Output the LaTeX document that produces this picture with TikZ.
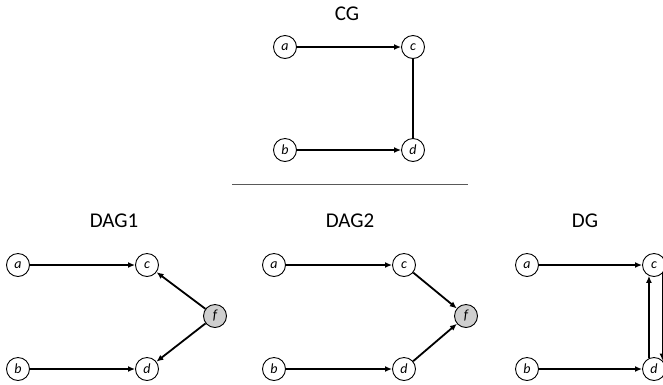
\documentclass[tikz,border=0pt]{standalone}
\usepackage{fontspec}
\setmainfont{Carlito}
\usetikzlibrary{arrows.meta}
\begin{document}
\begin{tikzpicture}[x=1pt,y=-1pt,
  var/.style={circle,draw,line width=0.9pt,minimum size=23pt,inner sep=0pt,
    font=\fontsize{14}{14}\selectfont\itshape},
  latent/.style={var,fill=black!19},
  title/.style={font=\fontsize{21}{21}\selectfont},
  edge/.style={line width=1.8pt,-{Latex[length=7pt,width=6pt]}},
  link/.style={line width=1.8pt}]
\useasboundingbox (0,0) rectangle (663,384);

% chain graph
\node[title] (tcg) at (347,14) {CG};
\node[var] (cga) at (285,47) {a};
\node[var] (cgc) at (413,47) {c};
\node[var] (cgb) at (285,150) {b};
\node[var] (cgd) at (413,150) {d};
\draw[edge] (cga) -- (cgc);
\draw[edge] (cgb) -- (cgd);
\draw[link] (cgc) -- (cgd);

% separator
\coordinate (sl) at (232,184.5);
\coordinate (sr) at (468,184.5);
\draw[line width=1.3pt,black!65] (sl) -- (sr);

% DAG1: latent f as common cause
\node[title] (t1) at (114,221) {DAG1};
\node[var] (d1a) at (18,265) {a};
\node[var] (d1c) at (147,265) {c};
\node[var] (d1b) at (18,369) {b};
\node[var] (d1d) at (147,369) {d};
\node[latent] (d1f) at (215,316) {f};
\draw[edge] (d1a) -- (d1c);
\draw[edge] (d1b) -- (d1d);
\draw[edge] (d1f) -- (d1c);
\draw[edge] (d1f) -- (d1d);

% DAG2: latent f as common effect
\node[title] (t2) at (350,221) {DAG2};
\node[var] (d2a) at (274,265) {a};
\node[var] (d2c) at (404,265) {c};
\node[var] (d2b) at (274,369) {b};
\node[var] (d2d) at (404,369) {d};
\node[latent] (d2f) at (466,316) {f};
\draw[edge] (d2a) -- (d2c);
\draw[edge] (d2b) -- (d2d);
\draw[edge] (d2c) -- (d2f);
\draw[edge] (d2d) -- (d2f);

% directed cyclic graph
\node[title] (t3) at (585,221) {DG};
\node[var] (dga) at (527,265) {a};
\node[var] (dgc) at (654,265) {c};
\node[var] (dgb) at (527,369) {b};
\node[var] (dgd) at (654,369) {d};
\draw[edge] (dga) -- (dgc);
\draw[edge] (dgb) -- (dgd);
\draw[edge] (dgd.115) -- (dgc.245);
\draw[edge] (dgc.315) -- (dgd.45);
\end{tikzpicture}
\end{document}
